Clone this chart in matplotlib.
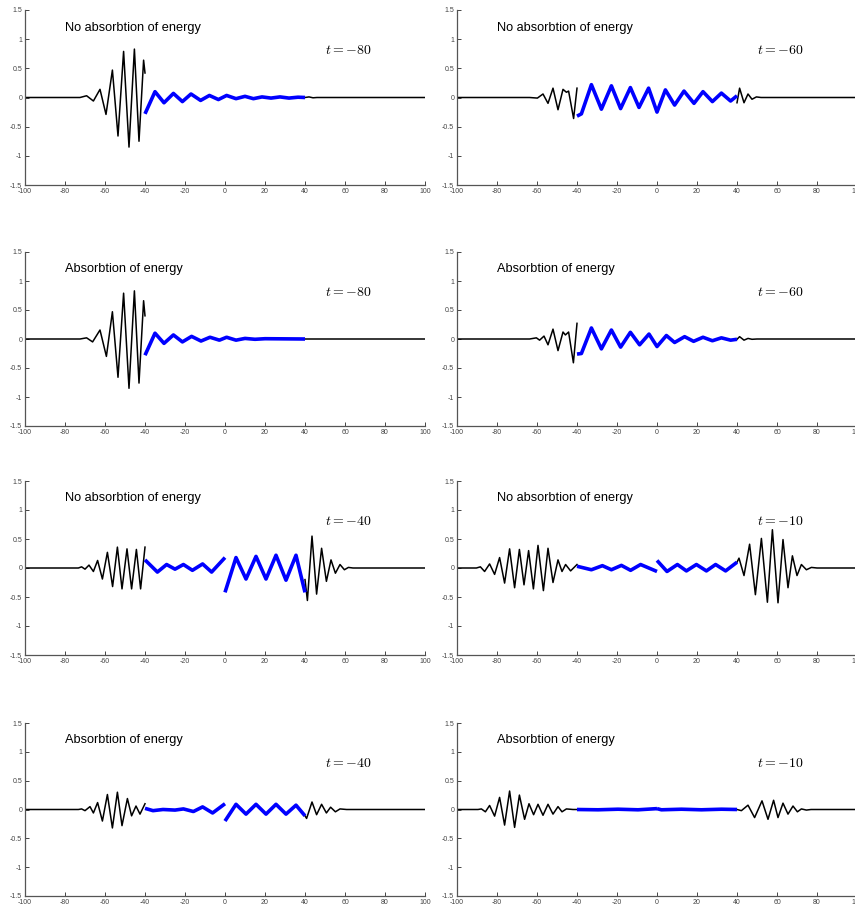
import matplotlib
matplotlib.use("Agg")
import matplotlib.pyplot as plt

# wave extrema (x, y pairs), black = incident/transmitted, blue = inside [-40, 40]
# --- t = -80, no absorption
p1_bl_x = [-100, -72.5, -69.2, -65.8, -62.5, -59.5, -56.3, -53.5, -50.7, -48.0, -45.3, -43.0, -40.7, -40]
p1_bl_y = [0, 0, 0.03, -0.06, 0.14, -0.29, 0.47, -0.66, 0.79, -0.85, 0.83, -0.75, 0.64, 0.42]
p1_bu_x = [-40, -35, -30.5, -25.8, -21.3, -17.0, -12.2, -7.8, -3.3, 0.8, 5.5, 10.0, 14.2, 18.5, 23, 27.5, 32, 36.5, 40]
p1_bu_y = [-0.28, 0.10, -0.09, 0.07, -0.07, 0.06, -0.05, 0.035, -0.035, 0.035, -0.02, 0.02, -0.02, 0.01, -0.01, 0.01, -0.01, 0.005, 0]
p1_br_x = [40, 42, 44, 46, 100]
p1_br_y = [0, 0.01, -0.005, 0, 0]

# --- t = -60, no absorption
p2_bl_x = [-100, -63.7, -59.8, -57.0, -54.5, -52.0, -49.5, -47.0, -45.3, -44.2, -41.7, -40]
p2_bl_y = [0, 0, -0.01, 0.06, -0.10, 0.16, -0.21, 0.14, 0.09, 0.11, -0.36, 0.16]
p2_bu_x = [-40, -37.8, -32.8, -27.8, -22.8, -18.2, -13.3, -9.0, -4.2, 0.0, 4.2, 8.8, 13.5, 18.5, 23.0, 27.7, 32.2, 36.8, 40]
p2_bu_y = [-0.32, -0.28, 0.22, -0.20, 0.20, -0.19, 0.17, -0.17, 0.16, -0.25, 0.13, -0.13, 0.11, -0.10, 0.10, -0.07, 0.075, -0.06, 0.03]
p2_br_x = [40, 41.3, 43.5, 45.5, 47.5, 49.7, 52, 100]
p2_br_y = [-0.09, 0.16, -0.09, 0.06, -0.03, 0.01, 0, 0]

# --- t = -80, absorption
p3_bl_x = [-100, -72.5, -69.2, -66.2, -62.5, -59.3, -56.3, -53.5, -50.7, -48.0, -45.3, -43.0, -40.7, -40]
p3_bl_y = [0, 0, 0.02, -0.05, 0.155, -0.30, 0.47, -0.66, 0.79, -0.85, 0.83, -0.76, 0.66, 0.40]
p3_bu_x = [-40, -35, -30.5, -25.8, -21.3, -16.7, -12.0, -7.5, -2.8, 0.8, 5.5, 10, 15, 20, 40]
p3_bu_y = [-0.28, 0.10, -0.075, 0.07, -0.05, 0.045, -0.035, 0.03, -0.02, 0.03, -0.02, 0.01, -0.005, 0.005, 0]
p3_br_x = [40, 100]
p3_br_y = [0, 0]

# --- t = -60, absorption
p4_bl_x = [-100, -63.7, -60.3, -58.7, -56.5, -54.5, -52.0, -49.5, -47.0, -45.8, -44.2, -41.8, -40]
p4_bl_y = [0, 0, 0.02, -0.02, 0.05, -0.10, 0.17, -0.20, 0.12, 0.07, 0.12, -0.41, 0.27]
p4_bu_x = [-40, -37.8, -32.8, -27.8, -22.8, -18.2, -13.3, -8.7, -4.0, 0.0, 4.7, 8.8, 13.8, 18.3, 23.0, 27.7, 32.2, 36.8, 40]
p4_bu_y = [-0.26, -0.25, 0.19, -0.17, 0.155, -0.14, 0.115, -0.10, 0.085, -0.13, 0.06, -0.06, 0.04, -0.04, 0.03, -0.03, 0.02, -0.02, -0.005]
p4_br_x = [40, 41.3, 43.5, 45.5, 47.5, 50, 100]
p4_br_y = [-0.005, 0.04, -0.02, 0.01, -0.005, 0, 0]

# --- t = -40, no absorption
p5_bl_x = [-100, -73.3, -71.7, -70, -68, -65.8, -63.7, -61.3, -58.8, -56.2, -53.8, -51.5, -49, -46.7, -44.3, -42.2, -40]
p5_bl_y = [0, 0, 0.02, -0.02, 0.05, -0.06, 0.13, -0.19, 0.27, -0.32, 0.36, -0.36, 0.33, -0.36, 0.32, -0.36, 0.36]
p5_bu1_x = [-40, -33.8, -29.2, -25, -20.8, -16.3, -11.2, -6.7, 0]
p5_bu1_y = [0.14, -0.07, 0.06, -0.02, 0.06, -0.04, 0.07, -0.07, 0.18]
p5_bu2_x = [0, 5.5, 10.5, 15.5, 20.5, 25.5, 30.5, 35.5, 40]
p5_bu2_y = [-0.42, 0.18, -0.19, 0.20, -0.19, 0.22, -0.21, 0.22, -0.42]
p5_br_x = [40, 41.2, 43.5, 45.8, 48.3, 50.7, 53, 55.2, 57.5, 59.7, 61.7, 64, 100]
p5_br_y = [-0.20, -0.56, 0.55, -0.45, 0.34, -0.23, 0.14, -0.09, 0.06, -0.03, 0.01, 0, 0]

# --- t = -10, no absorption
p6_bl_x = [-100, -90.3, -88.3, -86.2, -83.7, -81.2, -78.7, -76.2, -73.7, -71.2, -68.8, -66.5, -64.2, -61.8,
           -59.5, -56.8, -54.5, -52, -49.5, -47.5, -45.7, -43.2, -40]
p6_bl_y = [0, 0, 0.02, -0.06, 0.07, -0.11, 0.18, -0.26, 0.33, -0.34, 0.32, -0.29, 0.30, -0.36,
           0.39, -0.39, 0.34, -0.25, 0.14, -0.06, 0.06, -0.05, 0.06]
p6_bu1_x = [-40, -32.8, -27.3, -22.8, -17.8, -13.2, -8.2, 0]
p6_bu1_y = [0.03, -0.03, 0.04, -0.03, 0.045, -0.04, 0.06, -0.06]
p6_bu2_x = [0, 5, 10.2, 14.7, 19.7, 24.7, 29.3, 34.3, 40]
p6_bu2_y = [0.13, -0.06, 0.06, -0.05, 0.06, -0.05, 0.06, -0.05, 0.10]
p6_br_x = [40, 41, 43.5, 46.3, 49.2, 52.2, 55.2, 57.7, 60.5, 63, 65.5, 67.7, 70, 72.2, 74.7, 77.2, 80, 100]
p6_br_y = [0.10, 0.17, -0.13, 0.41, -0.46, 0.51, -0.59, 0.66, -0.60, 0.49, -0.34, 0.21, -0.13, 0.06, -0.03, 0.01, 0, 0]

# --- t = -40, absorption
p7_bl_x = [-100, -73.3, -71.7, -70, -67.5, -65.8, -63.7, -61.3, -58.8, -56.3, -53.8, -51.5, -48.8, -46.7, -44.5, -42.5, -40]
p7_bl_y = [0, 0, 0.01, -0.02, 0.05, -0.06, 0.12, -0.20, 0.26, -0.32, 0.30, -0.28, 0.19, -0.11, 0.06, -0.08, 0.10]
p7_bu1_x = [-40, -36, -31, -25, -20.8, -15.8, -11.2, -6.2, 0]
p7_bu1_y = [0.02, -0.02, 0.0, -0.01, 0.01, -0.035, 0.045, -0.06, 0.10]
p7_bu2_x = [0, 5.5, 10.5, 15.5, 20.5, 25.5, 30.5, 35.5, 40]
p7_bu2_y = [-0.20, 0.09, -0.08, 0.09, -0.08, 0.09, -0.08, 0.075, -0.11]
p7_br_x = [40, 40.8, 43.5, 45.8, 48.3, 50.7, 52.8, 55.2, 57.5, 60.8, 100]
p7_br_y = [-0.11, -0.155, 0.13, -0.09, 0.09, -0.06, 0.04, -0.04, 0.01, 0, 0]

# --- t = -10, absorption
p8_bl_x = [-100, -89.5, -87.8, -85.8, -83.7, -81.2, -78.7, -76.2, -73.7, -71.2, -68.8, -66.2, -64, -61.7,
           -59.5, -57, -54.5, -52, -49.5, -47.5, -45.3, -42, -40]
p8_bl_y = [0, 0, 0.01, -0.04, 0.07, -0.115, 0.21, -0.27, 0.32, -0.31, 0.25, -0.17, 0.10, -0.09,
           0.09, -0.10, 0.09, -0.08, 0.05, -0.04, 0.01, 0, 0]
p8_bu1_x = [-40, -29.5, -19.5, -9.5, 0]
p8_bu1_y = [0, -0.005, 0.005, -0.005, 0.015]
p8_bu2_x = [0, 2.2, 12.2, 22.2, 32.2, 40]
p8_bu2_y = [0.015, -0.005, 0.005, -0.005, 0.005, 0]
p8_br_x = [40, 42.2, 45.5, 48.8, 52.5, 55.5, 58.3, 60.5, 63, 65.5, 68, 70.2, 72.2, 74.7, 77, 100]
p8_br_y = [0, -0.02, 0.075, -0.14, 0.15, -0.17, 0.16, -0.14, 0.11, -0.08, 0.06, -0.04, 0.01, -0.01, 0, 0]

titles = ["No absorbtion of energy", "No absorbtion of energy",
          "Absorbtion of energy", "Absorbtion of energy",
          "No absorbtion of energy", "No absorbtion of energy",
          "Absorbtion of energy", "Absorbtion of energy"]
times = [-80, -60, -80, -60, -40, -10, -40, -10]
xticks = [-100, -80, -60, -40, -20, 0, 20, 40, 60, 80, 100]
yticks = [-1.5, -1, -0.5, 0, 0.5, 1, 1.5]

panels = [
    ([(p1_bl_x, p1_bl_y), (p1_br_x, p1_br_y)], [(p1_bu_x, p1_bu_y)]),
    ([(p2_bl_x, p2_bl_y), (p2_br_x, p2_br_y)], [(p2_bu_x, p2_bu_y)]),
    ([(p3_bl_x, p3_bl_y), (p3_br_x, p3_br_y)], [(p3_bu_x, p3_bu_y)]),
    ([(p4_bl_x, p4_bl_y), (p4_br_x, p4_br_y)], [(p4_bu_x, p4_bu_y)]),
    ([(p5_bl_x, p5_bl_y), (p5_br_x, p5_br_y)], [(p5_bu1_x, p5_bu1_y), (p5_bu2_x, p5_bu2_y)]),
    ([(p6_bl_x, p6_bl_y), (p6_br_x, p6_br_y)], [(p6_bu1_x, p6_bu1_y), (p6_bu2_x, p6_bu2_y)]),
    ([(p7_bl_x, p7_bl_y), (p7_br_x, p7_br_y)], [(p7_bu1_x, p7_bu1_y), (p7_bu2_x, p7_bu2_y)]),
    ([(p8_bl_x, p8_bl_y), (p8_br_x, p8_br_y)], [(p8_bu1_x, p8_bu1_y), (p8_bu2_x, p8_bu2_y)]),
]

plt.rcParams['mathtext.fontset'] = 'cm'
plt.rcParams['font.family'] = ['Liberation Sans', 'DejaVu Sans']

W, H = 855, 906
fig = plt.figure(figsize=(W / 100, H / 100), dpi=100)

# axes boxes in pixels (left, top, right, bottom)
col_px = [(25, 425), (457, 857)]
row_px = [(10, 185), (252, 426), (481, 655), (723, 896)]

for i, (blacks, blues) in enumerate(panels):
    r, c = divmod(i, 2)
    x0, x1 = col_px[c]
    y0, y1 = row_px[r]
    ax = fig.add_axes([x0 / W, 1 - y1 / H, (x1 - x0) / W, (y1 - y0) / H])
    for xs, ys in blacks:
        ax.plot(xs, ys, color='black', lw=1.1, solid_joinstyle='round')
    for xs, ys in blues:
        ax.plot(xs, ys, color='#0000ff', lw=2.6, solid_capstyle='butt', solid_joinstyle='round')
    ax.set_xlim(-100, 100)
    ax.set_ylim(-1.5, 1.5)
    ax.set_xticks(xticks)
    ax.set_yticks(yticks)
    ax.set_xticklabels([str(v) for v in xticks])
    ax.set_yticklabels(['-1.5', '-1', '-0.5', '0', '0.5', '1', '1.5'])
    ax.tick_params(direction='in', length=3, width=0.7, labelsize=5, colors='#444444', pad=2)
    for s in ['top', 'right']:
        ax.spines[s].set_visible(False)
    for s in ['left', 'bottom']:
        ax.spines[s].set_color('#555555')
        ax.spines[s].set_linewidth(0.9)
    ax.text(-80, 1.2, titles[i], fontsize=9.2, va='center', ha='left')
    ax.text(50, 0.81, r'$t=%d$' % times[i], fontsize=10, va='center', ha='left')

fig.savefig('out.png', dpi=100)
